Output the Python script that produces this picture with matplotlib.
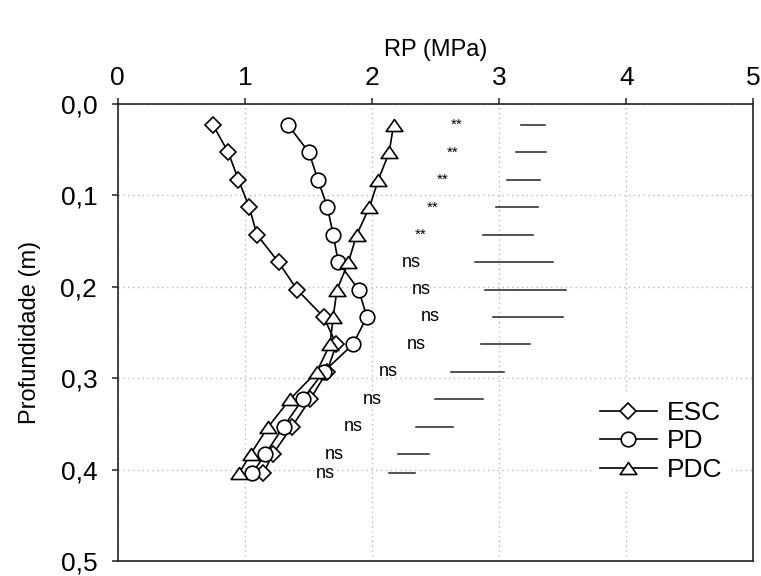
import matplotlib
matplotlib.use("Agg")
import matplotlib.pyplot as plt
from matplotlib.path import Path

plt.rcParams['font.family'] = ['Liberation Sans', 'DejaVu Sans']

# Depth (m)
depth = [0.023, 0.053, 0.083, 0.113, 0.143, 0.173, 0.203, 0.233, 0.263,
         0.293, 0.323, 0.353, 0.383, 0.404]
# Penetration resistance (MPa)
esc = [0.75, 0.87, 0.95, 1.035, 1.095, 1.265, 1.41, 1.62, 1.72, 1.645,
       1.515, 1.37, 1.22, 1.145]
pd_ = [1.34, 1.505, 1.575, 1.65, 1.695, 1.735, 1.895, 1.96, 1.85, 1.62,
       1.455, 1.305, 1.16, 1.06]
pdc = [2.17, 2.135, 2.05, 1.98, 1.88, 1.815, 1.725, 1.695, 1.67, 1.565,
       1.355, 1.185, 1.045, 0.955]
series_names = ['ESC', 'PD', 'PDC']

# Significance labels and LSD bars
sig_labels = ['**', '**', '**', '**', '**', 'ns', 'ns', 'ns', 'ns', 'ns',
              'ns', 'ns', 'ns', 'ns']
sig_x = [2.67, 2.635, 2.56, 2.48, 2.38, 2.31, 2.39, 2.455, 2.35, 2.125,
         2.0, 1.855, 1.705, 1.635]
bar_lo = [3.175, 3.135, 3.06, 2.975, 2.875, 2.81, 2.89, 2.955, 2.855,
          2.625, 2.495, 2.35, 2.205, 2.135]
bar_hi = [3.365, 3.37, 3.32, 3.305, 3.265, 3.425, 3.525, 3.5, 3.24,
          3.04, 2.875, 2.64, 2.445, 2.335]

xticks = [0, 1, 2, 3, 4, 5]
yticks = [0.0, 0.1, 0.2, 0.3, 0.4, 0.5]
ytick_labels = ['0,0', '0,1', '0,2', '0,3', '0,4', '0,5']

fig = plt.figure(figsize=(7.61, 5.76), dpi=100)
ax = fig.add_axes([0.1547, 0.026, 0.8352, 0.7934])

tri = Path([(0, 0.72), (-1, -0.72), (1, -0.72), (0, 0.72)],
           [Path.MOVETO, Path.LINETO, Path.LINETO, Path.CLOSEPOLY])

common = dict(color='black', lw=1.2, mfc='white', mec='black', mew=1.2,
              zorder=3)
ax.plot(esc, depth, marker='D', ms=8.2, label=series_names[0], **common)
ax.plot(pd_, depth, marker='o', ms=10.5, label=series_names[1], **common)
ax.plot(pdc, depth, marker=tri, ms=12, label=series_names[2], **common)

for lab, sx, y, lo, hi in zip(sig_labels, sig_x, depth, bar_lo, bar_hi):
    ax.text(sx, y, lab, ha='center', va='center',
            fontsize=13 if lab == 'ns' else 11)
    ax.plot([lo, hi], [y, y], color='#222222', lw=1.1, zorder=2)

ax.set_xlim(0, 5)
ax.set_ylim(0.5, 0.0)
ax.set_xticks(xticks)
ax.set_yticks(yticks)
ax.set_yticklabels(ytick_labels)
ax.xaxis.tick_top()
ax.xaxis.set_label_position('top')
ax.tick_params(axis='both', labelsize=19, direction='out', length=4.3,
               width=1.2, color='#333333')
ax.tick_params(axis='x', pad=6)
ax.tick_params(axis='y', pad=10.5)
ax.set_xlabel('RP (MPa)', fontsize=17, labelpad=7)
ax.set_ylabel('Profundidade (m)', fontsize=17, labelpad=14)
for s in ax.spines.values():
    s.set_linewidth(1.2)
    s.set_color('#222222')

ax.grid(True, color='#bbbbbb', lw=1.0, linestyle=(0, (1, 2.5)), zorder=0)
ax.set_axisbelow(True)

leg = ax.legend(loc='lower left', bbox_to_anchor=(0.746, 0.156), frameon=True,
                fontsize=19, handlelength=2.16, handletextpad=0.38,
                labelspacing=0.17, borderpad=0.3, numpoints=1,
                borderaxespad=0.0)
leg.get_frame().set_edgecolor('none')
leg.get_frame().set_facecolor('white')
leg.get_frame().set_alpha(1.0)
leg.set_zorder(5)

fig.savefig('out.png', dpi=100)
